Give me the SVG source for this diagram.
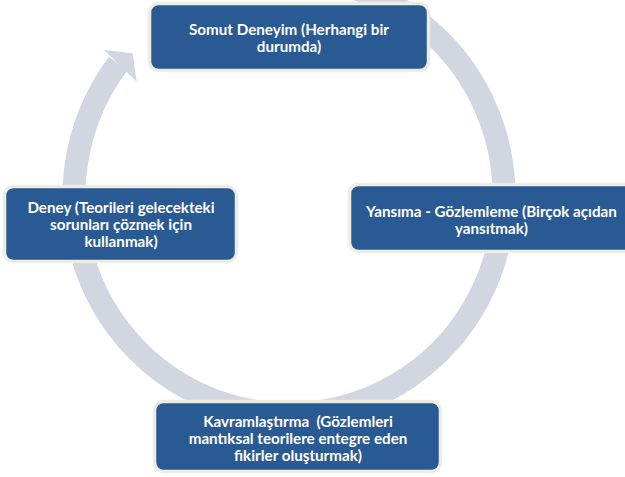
<svg xmlns="http://www.w3.org/2000/svg" width="625" height="477" viewBox="0 0 625 477">
<style>
.box{fill:#2A5A93;stroke:#EDEDE4;stroke-width:3.5}
.t{font-family:Lato,"Open Sans","Liberation Sans",sans-serif;font-weight:bold;font-size:15.2px;fill:#FFFFFF;text-anchor:middle;white-space:pre}
.ring{fill:none;stroke:#D1D6E0;stroke-width:23}
</style>
<rect width="625" height="477" fill="#FFFFFF"/>
<g id="connectors">
<path class="ring" d="M233.4,-14.6 A215,218 0 1 1 118.2,63.6"/>
<polygon points="104,50 132.7,53.3 136.7,81.7" fill="#D1D6E0"/>
</g>
<g id="node-somut">
<rect class="box" x="149.5" y="3.5" width="279" height="67" rx="9"/>
<text class="t" x="289" y="35">Somut Deneyim (Herhangi bir</text>
<text class="t" x="289" y="52">durumda)</text>
</g>
<g id="node-yansima">
<rect class="box" x="349.5" y="184.5" width="284" height="67" rx="9"/>
<text class="t" x="491.5" y="216.5">Yansıma - Gözlemleme (Birçok açıdan</text>
<text class="t" x="491.5" y="233.5">yansıtmak)</text>
</g>
<g id="node-kavram">
<rect class="box" x="154.5" y="401.5" width="286" height="70" rx="9"/>
<text class="t" x="298" y="427">Kavramlaştırma  (Gözlemleri</text>
<text class="t" x="298" y="444">mantıksal teorilere entegre eden</text>
<text class="t" x="298" y="461">fikirler oluşturmak)</text>
</g>
<g id="node-deney">
<rect class="box" x="4.5" y="186.5" width="232" height="75" rx="9"/>
<text class="t" x="121" y="213">Deney (Teorileri gelecekteki</text>
<text class="t" x="121" y="230">sorunları çözmek için</text>
<text class="t" x="121" y="247">kullanmak)</text>
</g>
</svg>
